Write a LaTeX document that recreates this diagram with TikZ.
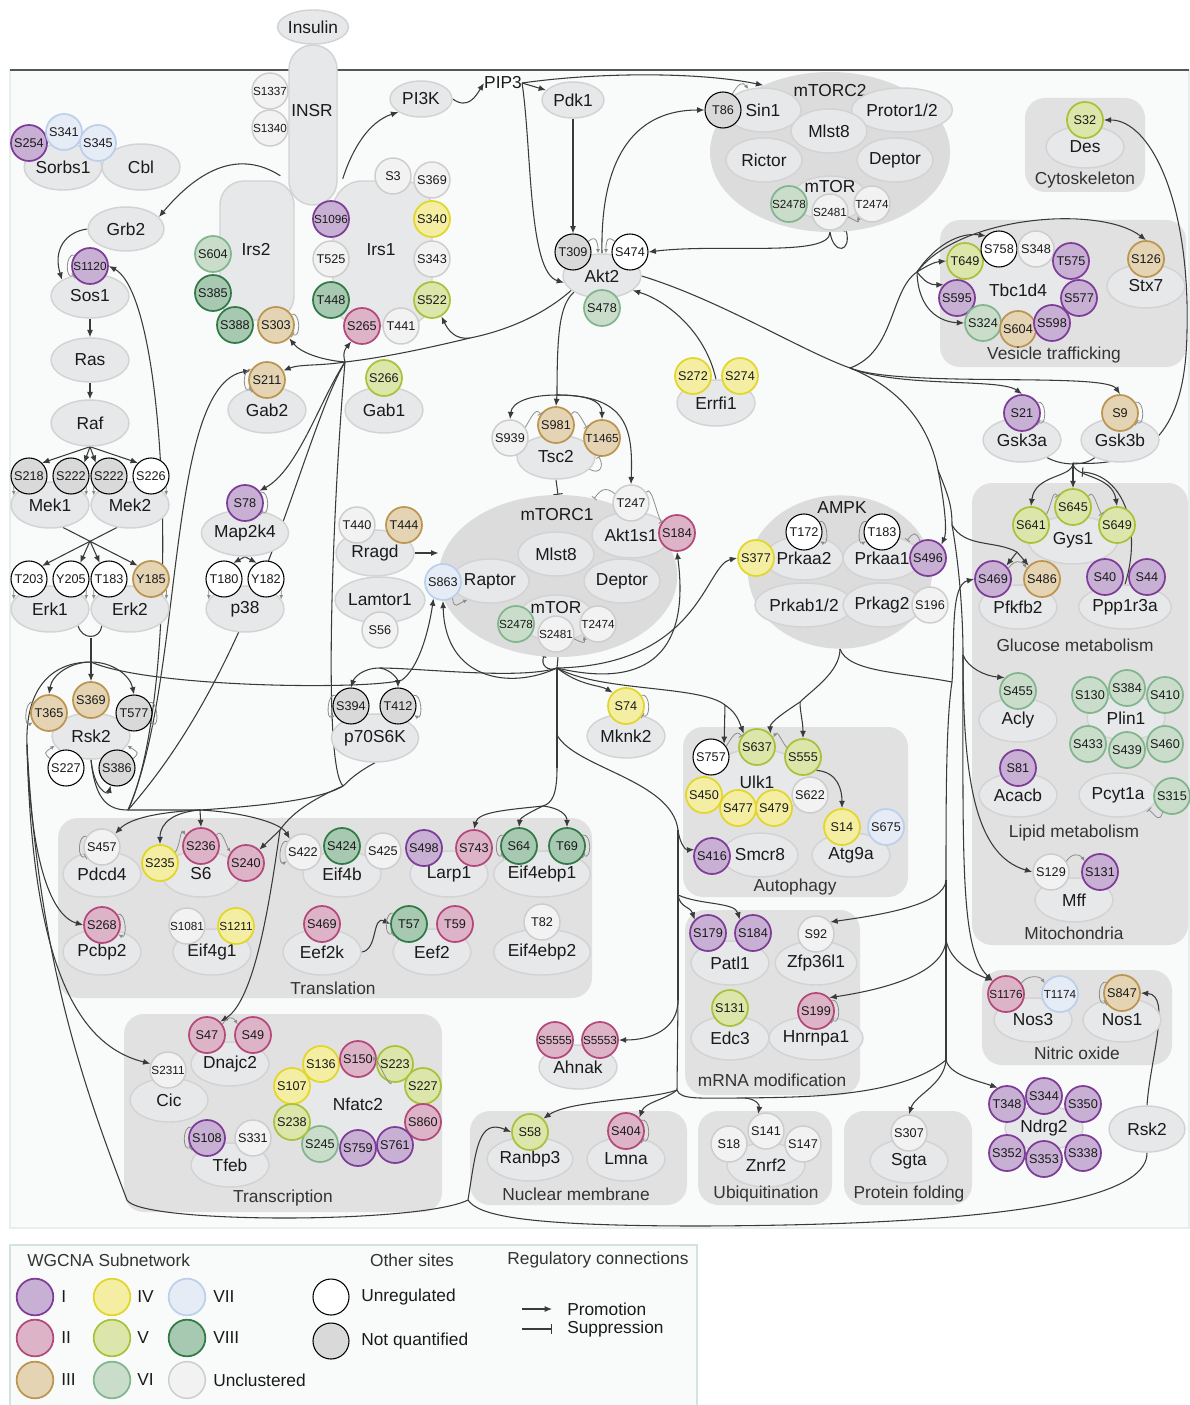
\documentclass[tikz,border=0pt]{standalone}
\usepackage{fontspec}
\setmainfont{Liberation Sans}
\usetikzlibrary{shapes.geometric,arrows.meta,calc,backgrounds}
\pgfdeclarelayer{edges}
\pgfsetlayers{background,edges,main}
\definecolor{cIf}{HTML}{C8B0D4}\definecolor{cId}{HTML}{7D3C98}
\definecolor{cIIf}{HTML}{DDB4C7}\definecolor{cIId}{HTML}{B5487A}
\definecolor{cIIIf}{HTML}{E4D4B4}\definecolor{cIIId}{HTML}{BC9550}
\definecolor{cIVf}{HTML}{F3EEA2}\definecolor{cIVd}{HTML}{E2D62C}
\definecolor{cVf}{HTML}{DDE6AA}\definecolor{cVd}{HTML}{A8C23A}
\definecolor{cVIf}{HTML}{CADDCB}\definecolor{cVId}{HTML}{82B58D}
\definecolor{cVIIf}{HTML}{E6ECF6}\definecolor{cVIId}{HTML}{BCCFEB}
\definecolor{cVIIIf}{HTML}{A7C8B1}\definecolor{cVIIId}{HTML}{2F7A45}
\definecolor{cUf}{HTML}{F2F2F2}\definecolor{cUd}{HTML}{CDCDCD}
\definecolor{nqf}{HTML}{D9D9D9}
\definecolor{protf}{HTML}{E7E8EA}\definecolor{protd}{HTML}{D3D3D3}
\definecolor{boxf}{HTML}{E1E1E1}
\definecolor{cplxf}{HTML}{DCDCDC}
\definecolor{mainbg}{HTML}{F9FBFB}
\definecolor{lgbd}{HTML}{D3E3E3}
\definecolor{panelbd}{HTML}{E6EEEE}
\definecolor{topline}{HTML}{555555}
\definecolor{edgec}{HTML}{3A3A3A}
\definecolor{slfc}{HTML}{8C8C8C}
\definecolor{txt}{HTML}{1A1A1A}
\definecolor{sectxt}{HTML}{333333}
\newcommand\fP{\fontsize{13}{15}\selectfont}
\newcommand\fS{\fontsize{9.5}{11}\selectfont}
\newcommand\fSs{\fontsize{8.8}{10}\selectfont}
\newcommand\St[5][]{\node[s#2,#1] (#3) at (#4) {#5};}
\newcommand\Pn[6][]{\node[prot,pw=#4,ph=#5,#1] (#2) at (#3) {#6};}
\newcommand\slR[2]{\draw[#1] (#2.35) .. controls +(9,-3) and +(9,5) .. (#2.-30);}
\newcommand\slL[2]{\draw[#1] (#2.145) .. controls +(-9,-3) and +(-9,5) .. (#2.210);}
\newcommand\slB[3]{\draw[#1] (#2.35) .. controls +(5,-8) and +(-5,-8) .. (#3.145);}
\newcommand\slD[3]{\draw[slfa] (#1.#2) .. controls +(0,3) .. (#3);}
\begin{document}
\begin{tikzpicture}[x=0.75pt,y=-0.75pt,
 prot/.style={ellipse, draw=protd, fill=protf, line width=1.1pt, inner sep=0pt, font=\fP, text=txt},
 pw/.style={minimum width=#1*0.75pt},
 ph/.style={minimum height=#1*0.75pt},
 rprot/.style={rectangle, draw=protd, fill=protf, line width=1.1pt, inner sep=0pt, rounded corners=#1},
 cplx/.style={ellipse, fill=cplxf, inner sep=0pt},
 site/.style={circle, minimum size=27pt, inner sep=0pt, line width=1.3pt, font=\fS, text=txt},
 sI/.style={site, fill=cIf, draw=cId},
 sII/.style={site, fill=cIIf, draw=cIId},
 sIII/.style={site, fill=cIIIf, draw=cIIId},
 sIV/.style={site, fill=cIVf, draw=cIVd},
 sV/.style={site, fill=cVf, draw=cVd},
 sVI/.style={site, fill=cVIf, draw=cVId},
 sVII/.style={site, fill=cVIIf, draw=cVIId},
 sVIII/.style={site, fill=cVIIIf, draw=cVIIId},
 sU/.style={site, fill=cUf, draw=cUd, line width=1.1pt},
 sW/.style={site, fill=white, draw=black, line width=0.8pt},
 sN/.style={site, fill=nqf, draw=black, line width=0.8pt},
 sm/.style={font=\fSs},
 lbl/.style={font=\fP, inner sep=0pt, text=txt},
 slbl/.style={font=\fP, inner sep=0pt, text=sectxt},
 pro/.style={draw=edgec, line width=0.8pt, -{Latex[length=5.5pt,width=4.5pt]}},
 sup/.style={draw=edgec, line width=0.8pt, -{Bar[width=7pt]}},
 lnk/.style={draw=edgec, line width=0.8pt},
 slfa/.style={draw=slfc, line width=0.6pt, -{Latex[length=3.2pt,width=3pt]}},
 slfb/.style={draw=slfc, line width=0.6pt, -{Bar[width=4.5pt]}}]
\useasboundingbox (0,0) rectangle (1189,1405);
\begin{pgfonlayer}{background}
\fill[white] (0,0) rectangle (1189,1405);
\draw[draw=panelbd, fill=mainbg, line width=0.8pt] (10,70) rectangle (1189,1228);
\draw[draw=topline, line width=1.3pt] (10,70) -- (1189,70);
\fill[boxf, rounded corners=15pt] (1025,98) rectangle (1145,192);
\fill[boxf, rounded corners=15pt] (940,220) rectangle (1186,367);
\fill[boxf, rounded corners=15pt] (972,483) rectangle (1188,945);
\fill[boxf, rounded corners=15pt] (982,970) rectangle (1172,1065);
\fill[boxf, rounded corners=15pt] (844,1111) rectangle (972,1205);
\fill[boxf, rounded corners=15pt] (698,1111) rectangle (832,1205);
\fill[boxf, rounded corners=15pt] (470,1111) rectangle (687,1205);
\fill[boxf, rounded corners=15pt] (685,910) rectangle (860,1095);
\fill[boxf, rounded corners=15pt] (683,727) rectangle (908,897);
\fill[boxf, rounded corners=15pt] (58,818) rectangle (592,998);
\fill[boxf, rounded corners=15pt] (124,1014) rectangle (442,1212);
\draw[lgbd, fill=mainbg, line width=1pt] (10,1245) rectangle (697,1412);
\end{pgfonlayer}
% ---------- top / insulin ----------
\node[rprot=18pt, minimum width=36pt, minimum height=120pt] (INSR) at (313,125) {};
\node[lbl] (INSRl) at (312,111) {INSR};
\Pn{Insulin}{313,27}{58}{34}{Insulin}
\St[sm]{U}{in1337}{270,91}{S1337}
\St[sm]{U}{in1340}{270,128}{S1340}
\node[rprot=18pt, minimum width=55.5pt, minimum height=104.25pt] (Irs2) at (257,250.5) {};
\node[lbl] (Irs2l) at (256,250) {Irs2};
\node[rprot=22pt, minimum width=74.25pt, minimum height=108.75pt] (Irs1) at (382.5,253.5) {};
\node[lbl] (Irs1l) at (381,250) {Irs1};
\St{VI}{i2604}{213,254}{S604}
\St{VIII}{i2385}{213,293}{S385}
\St{VIII}{i2388}{235,325}{S388}
\St{III}{i2303}{276,325}{S303}
\St{U}{i1s3}{393,176}{S3}
\St{U}{i1s369}{432,180}{S369}
\St[sm]{I}{i1s1096}{331,219}{S1096}
\St{IV}{i1s340}{432,219}{S340}
\St{U}{i1t525}{331,259}{T525}
\St{U}{i1s343}{432,259}{S343}
\St{VIII}{i1t448}{331,300}{T448}
\St{V}{i1s522}{432,300}{S522}
\St{II}{i1s265}{362,326}{S265}
\St{U}{i1t441}{401,326}{T441}
\Pn{PI3K}{421,99}{62}{36}{PI3K}
\node[lbl] (PIP3) at (503,83) {PIP3};
\Pn{Pdk1}{573,100}{62}{36}{Pdk1}
% ---------- left column ----------
\Pn{Sorbs1}{63,167}{76}{46}{Sorbs1}
\Pn{Cbl}{141,167}{78}{46}{Cbl}
\St{I}{sb254}{29,143}{S254}
\St{VII}{sb341}{64,132}{S341}
\St{VII}{sb345}{98,143}{S345}
\Pn{Grb2}{126,229}{76}{44}{Grb2}
\Pn{Sos1}{90,296}{78}{44}{Sos1}
\St[sm]{I}{so1120}{90,266}{S1120}
\Pn{Ras}{90,360}{78}{44}{Ras}
\Pn{Raf}{90,423}{78}{46}{Raf}
\Pn{Mek1}{50,505}{78}{46}{Mek1}
\Pn{Mek2}{130,505}{78}{46}{Mek2}
\St{N}{mk218}{29,476}{S218}
\St{N}{mk222a}{71,476}{S222}
\St{N}{mk222b}{109,476}{S222}
\St{W}{mk226}{151,476}{S226}
\Pn{Erk1}{50,609}{78}{46}{Erk1}
\Pn{Erk2}{130,609}{78}{46}{Erk2}
\St{W}{ek203}{29,579}{T203}
\St{W}{ek205}{71,579}{Y205}
\St{W}{ek183}{109,579}{T183}
\St{III}{ek185}{151,579}{Y185}
\Pn{Rsk2}{91,736}{78}{46}{Rsk2}
\St{III}{rk365}{49,713}{T365}
\St{III}{rk369}{91,700}{S369}
\St{N}{rk577}{134,713}{T577}
\St{W}{rk227}{66,768}{S227}
\St{N}{rk386}{117,768}{S386}
% ---------- middle left ----------
\Pn{Gab2}{267,410}{78}{46}{Gab2}
\St{III}{gb211}{267,380}{S211}
\Pn{Gab1}{384,410}{78}{46}{Gab1}
\St{V}{gb266}{384,378}{S266}
\Pn{Map2k4}{245,533}{80}{46}{Map2k4}
\St{I}{mp78}{245,503}{S78}
\Pn{p38}{245,609}{78}{46}{p38}
\St{W}{p3180}{224,579}{T180}
\St{W}{p3182}{266,579}{Y182}
\Pn{Rragd}{375,553}{78}{46}{Rragd}
\St{U}{rg440}{357,525}{T440}
\St{III}{rg444}{404,525}{T444}
\Pn{Lamtor1}{380,600}{78}{46}{Lamtor1}
\St{U}{lt56}{380,630}{S56}
\Pn{p70S6K}{375,738}{86}{48}{p70S6K}
\St{N}{s6394}{351,706}{S394}
\St{N}{s6412}{398,706}{T412}
% ---------- Akt2 ----------
\Pn{Akt2}{602,276}{78}{44}{Akt2}
\St{N}{ak309}{573,252}{T309}
\St{W}{ak474}{630,252}{S474}
\St{VI}{ak478}{602,308}{S478}
% ---------- mTORC2 ----------
\node[cplx, minimum width=180pt, minimum height=120pt] (mTORC2) at (830,152) {};
\node[lbl] (mTORC2l) at (830,91) {mTORC2};
\Pn{Sin1}{763,110}{76}{44}{Sin1}
\Pn{Protor}{902,110}{80}{44}{Protor1/2}
\Pn{MlstB}{829,131}{76}{44}{Mlst8}
\Pn{Rictor}{764,160}{76}{44}{Rictor}
\Pn{DeptorB}{895,160}{76}{44}{Deptor}
\Pn{mTORB}{830,198}{76}{44}{}
\node[lbl] (mTORBl) at (830,187) {mTOR};
\St{N}{m2t86}{723,110}{T86}
\St[sm]{VI}{m2s2478}{789,204}{S2478}
\St[sm]{U}{m2s2481}{830,212}{S2481}
\St[sm]{U}{m2t2474}{872,204}{T2474}
% ---------- Tsc2 / mTORC1 ----------
\Pn{Tsc2}{556,457}{78}{44}{Tsc2}
\St{U}{ts939}{510,438}{S939}
\St{III}{ts981}{556,425}{S981}
\St[sm]{III}{ts1465}{602,438}{T1465}
\node[cplx, minimum width=179pt, minimum height=121.5pt] (mTORC1) at (558,576) {};
\node[lbl] (mTORC1l) at (557,515) {mTORC1};
\Pn{Akt1s1}{631,535}{78}{46}{Akt1s1}
\Pn{MlstA}{556,554}{76}{44}{Mlst8}
\Pn{Raptor}{490,581}{78}{44}{Raptor}
\Pn{DeptorA}{622,581}{76}{44}{Deptor}
\Pn{mTORA}{556,618}{76}{46}{}
\node[lbl] (mTORAl) at (556,608) {mTOR};
\St{U}{as247}{631,503}{T247}
\St{II}{as184}{677,533}{S184}
\St{VII}{rp863}{443,582}{S863}
\St[sm]{VI}{m1s2478}{516,624}{S2478}
\St[sm]{U}{m1s2481}{556,634}{S2481}
\St[sm]{U}{m1t2474}{598,624}{T2474}
\Pn{Errfi1}{716,403}{78}{46}{Errfi1}
\St{IV}{ef272}{693,376}{S272}
\St{IV}{ef274}{740,376}{S274}
\Pn{Mknk2}{626,736}{78}{44}{Mknk2}
\St{IV}{mn74}{626,706}{S74}
% ---------- AMPK ----------
\node[cplx, minimum width=138pt, minimum height=115pt] (AMPK) at (840,572) {};
\node[lbl] (AMPKl) at (842,508) {AMPK};
\Pn{Prkaa2}{804,558}{78}{44}{Prkaa2}
\Pn{Prkaa1}{882,558}{78}{44}{Prkaa1}
\Pn{Prkab}{804,605}{78}{44}{Prkab1/2}
\Pn{Prkag2}{882,605}{78}{44}{Prkag2}
\St{W}{a2t172}{804,532}{T172}
\St{IV}{a2s377}{756,558}{S377}
\St{W}{a1t183}{882,532}{T183}
\St{I}{a1s496}{928,558}{S496}
\St{U}{g2s196}{930,605}{S196}
% ---------- right column ----------
\Pn{Des}{1085,147}{78}{42}{Des}
\St{V}{ds32}{1085,120}{S32}
\node[slbl] (cytol) at (1085,180) {Cytoskeleton};
\Pn{Tbc1d4}{1018,290}{116}{74}{Tbc1d4}
\St{V}{vt649}{965,261}{T649}
\St{W}{vs758}{999,249}{S758}
\St{U}{vs348}{1036,249}{S348}
\St{I}{vt575}{1071,261}{T575}
\St{I}{vs595}{957,298}{S595}
\St{I}{vs577}{1079,298}{S577}
\St{VI}{vs324}{983,323}{S324}
\St{III}{vs604}{1018,329}{S604}
\St{I}{vs598}{1052,323}{S598}
\Pn{Stx7}{1146,286}{78}{44}{Stx7}
\St{III}{sx126}{1146,259}{S126}
\node[slbl] (vesl) at (1054,355) {Vesicle trafficking};
\Pn{Gsk3a}{1022,440}{78}{44}{Gsk3a}
\St{I}{g3a21}{1022,413}{S21}
\Pn{Gsk3b}{1120,440}{78}{44}{Gsk3b}
\St{III}{g3b9}{1120,413}{S9}
\Pn{Gys1}{1073,540}{90}{48}{Gys1}
\St{V}{gy641}{1031,525}{S641}
\St{V}{gy645}{1073,507}{S645}
\St{V}{gy649}{1117,525}{S649}
\Pn{Pfkfb2}{1018,607}{78}{44}{Pfkfb2}
\St{I}{pf469}{993,579}{S469}
\St{III}{pf486}{1042,579}{S486}
\Pn{Ppp1r3a}{1125,607}{80}{44}{Ppp1r3a}
\St{I}{pp40}{1105,577}{S40}
\St{I}{pp44}{1147,577}{S44}
\node[slbl] (glucl) at (1075,645) {Glucose metabolism};
\Pn{Acly}{1018,720}{78}{44}{Acly}
\St{VI}{ac455}{1018,691}{S455}
\Pn{Plin1}{1126,718}{78}{44}{Plin1}
\St{VI}{pl130}{1090,695}{S130}
\St{VI}{pl384}{1127,688}{S384}
\St{VI}{pl410}{1165,695}{S410}
\St{VI}{pl433}{1088,744}{S433}
\St{VI}{pl439}{1127,750}{S439}
\St{VI}{pl460}{1165,744}{S460}
\Pn{Acacb}{1018,795}{78}{44}{Acacb}
\St{I}{cb81}{1018,768}{S81}
\Pn{Pcyt1a}{1118,795}{78}{44}{Pcyt1a}
\St{VI}{pc315}{1172,796}{S315}
\node[slbl] (lipl) at (1074,833) {Lipid metabolism};
\Pn{Mff}{1074,900}{78}{44}{Mff}
\St{U}{mf129}{1051,872}{S129}
\St{I}{mf131}{1100,872}{S131}
\node[slbl] (mitol) at (1074,933) {Mitochondria};
\Pn{Nos3}{1033,1020}{78}{44}{Nos3}
\St[sm]{II}{n3s1176}{1006,994}{S1176}
\St[sm]{VII}{n3t1174}{1060,994}{T1174}
\Pn{Nos1}{1122,1020}{78}{44}{Nos1}
\St{III}{n1s847}{1122,993}{S847}
\node[slbl] (nol) at (1077,1053) {Nitric oxide};
\Pn{Ndrg2}{1044,1128}{78}{44}{Ndrg2}
\St{I}{nd348}{1007,1104}{T348}
\St{I}{nd344}{1044,1096}{S344}
\St{I}{nd350}{1083,1104}{S350}
\St{I}{nd352}{1007,1153}{S352}
\St{I}{nd353}{1044,1159}{S353}
\St{I}{nd338}{1083,1153}{S338}
\Pn{RskB}{1147,1129}{76}{46}{Rsk2}
% ---------- bottom boxes ----------
\Pn{Sgta}{909,1161}{78}{44}{Sgta}
\St{U}{sg307}{909,1133}{S307}
\node[slbl] (pfl) at (909,1194) {Protein folding};
\Pn{Znrf2}{766,1165}{78}{44}{Znrf2}
\St{U}{zn18}{729,1144}{S18}
\St{U}{zn141}{766,1131}{S141}
\St{U}{zn147}{803,1144}{S147}
\node[slbl] (ubl) at (766,1194) {Ubiquitination};
\Pn{Ranbp3}{530,1159}{78}{44}{Ranbp3}
\St{V}{rb58}{530,1132}{S58}
\Pn{Lmna}{626,1159}{78}{44}{Lmna}
\St{II}{lm404}{626,1131}{S404}
\node[slbl] (nml) at (576,1194) {Nuclear membrane};
\Pn{Ahnak}{578,1067}{78}{44}{Ahnak}
\St[sm]{II}{ah5555}{555,1040}{S5555}
\St[sm]{II}{ah5553}{600,1040}{S5553}
\Pn{Patl1}{730,963}{78}{44}{Patl1}
\St{I}{pa179}{708,933}{S179}
\St{I}{pa184}{753,933}{S184}
\Pn{Zfp36l1}{816,963}{80}{44}{Zfp36l1}
\St{U}{zf92}{816,934}{S92}
\Pn{Edc3}{730,1038}{78}{44}{Edc3}
\St{V}{ed131}{730,1008}{S131}
\Pn{Hnrnpa1}{816,1038}{78}{44}{Hnrnpa1}
\St{II}{hn199}{816,1011}{S199}
\node[slbl] (mrnal) at (772,1080) {mRNA modification};
\Pn{Ulk1}{757,782}{104}{66}{Ulk1}
\St{W}{uk757}{711,757}{S757}
\St{V}{uk637}{757,747}{S637}
\St{V}{uk555}{803,757}{S555}
\St{IV}{uk450}{704,795}{S450}
\St{IV}{uk477}{738,808}{S477}
\St{IV}{uk479}{774,808}{S479}
\St{U}{uk622}{810,795}{S622}
\Pn{Smcr8}{760,855}{76}{44}{Smcr8}
\St{I}{sm416}{712,856}{S416}
\Pn{Atg9a}{851,855}{78}{44}{Atg9a}
\St{IV}{at14}{842,827}{S14}
\St{VII}{at675}{886,827}{S675}
\node[slbl] (autol) at (795,887) {Autophagy};
% ---------- translation ----------
\Pn{Pdcd4}{102,874}{78}{46}{Pdcd4}
\St{U}{pd457}{102,847}{S457}
\Pn{S6}{201,874}{78}{46}{S6}
\St{IV}{s6235}{160,863}{S235}
\St{II}{s6236}{201,846}{S236}
\St{II}{s6240}{246,863}{S240}
\Pn{Eif4b}{342,874}{78}{46}{Eif4b}
\St{U}{e4b422}{303,852}{S422}
\St{VIII}{e4b424}{342,846}{S424}
\St{U}{e4b425}{383,851}{S425}
\Pn{Larp1}{449,874}{78}{46}{Larp1}
\St{I}{lp498}{424,848}{S498}
\St{II}{lp743}{474,848}{S743}
\Pn{Eif4ebp1}{542,874}{82}{46}{Eif4ebp1}
\St{VIII}{bp64}{519,846}{S64}
\St{VIII}{bp69}{567,846}{T69}
\Pn{Pcbp2}{102,952}{78}{46}{Pcbp2}
\St{II}{pb268}{102,925}{S268}
\Pn{Eif4g1}{212,952}{78}{46}{Eif4g1}
\St[sm]{U}{g1081}{187,926}{S1081}
\St[sm]{IV}{g1211}{236,926}{S1211}
\Pn{Eef2k}{322,952}{78}{46}{Eef2k}
\St{II}{ek469}{322,924}{S469}
\Pn{Eef2}{432,952}{78}{46}{Eef2}
\St{VIII}{ef57}{409,924}{T57}
\St{II}{ef59}{455,924}{T59}
\Pn{Eif4ebp2}{542,952}{82}{46}{Eif4ebp2}
\St{U}{bp82}{542,922}{T82}
\node[slbl] (transl) at (333,988) {Translation};
% ---------- transcription ----------
\Pn{Dnajc2}{230,1064}{78}{44}{Dnajc2}
\St{II}{dj47}{207,1035}{S47}
\St{II}{dj49}{253,1035}{S49}
\Pn{Cic}{169,1100}{78}{44}{Cic}
\St[sm]{U}{cc2311}{168,1070}{S2311}
\Pn{Tfeb}{230,1165}{78}{44}{Tfeb}
\St{I}{tf108}{207,1138}{S108}
\St{U}{tf331}{253,1138}{S331}
\Pn{Nfatc2}{358,1104}{122}{86}{Nfatc2}
\St{IV}{nf107}{292,1086}{S107}
\St{IV}{nf136}{321,1064}{S136}
\St{II}{nf150}{358,1059}{S150}
\St{V}{nf223}{395,1064}{S223}
\St{V}{nf227}{423,1086}{S227}
\St{II}{nf860}{423,1122}{S860}
\St{I}{nf761}{395,1145}{S761}
\St{I}{nf759}{358,1148}{S759}
\St{VI}{nf245}{320,1144}{S245}
\St{V}{nf238}{292,1122}{S238}
\node[slbl] (trnl) at (283,1198) {Transcription};
% ---------- legend ----------
\node[slbl, anchor=west] (lgT1) at (27,1260) {WGCNA Subnetwork};
\node[sI, minimum size=27.5pt] (lgI) at (35,1297) {};
\node[sII, minimum size=27.5pt] (lgII) at (35,1338) {};
\node[sIII, minimum size=27.5pt] (lgIII) at (35,1380) {};
\node[sIV, minimum size=27.5pt] (lgIV) at (112,1297) {};
\node[sV, minimum size=27.5pt] (lgV) at (112,1338) {};
\node[sVI, minimum size=27.5pt] (lgVI) at (112,1380) {};
\node[sVII, minimum size=27.5pt] (lgVII) at (187,1297) {};
\node[sVIII, minimum size=27.5pt] (lgVIII) at (187,1338) {};
\node[sU, minimum size=27.5pt] (lgU) at (187,1380) {};
\node[lbl, anchor=west] (lgIt) at (61,1297) {I};
\node[lbl, anchor=west] (lgIIt) at (61,1338) {II};
\node[lbl, anchor=west] (lgIIIt) at (61,1380) {III};
\node[lbl, anchor=west] (lgIVt) at (137,1297) {IV};
\node[lbl, anchor=west] (lgVt) at (137,1338) {V};
\node[lbl, anchor=west] (lgVIt) at (137,1380) {VI};
\node[lbl, anchor=west] (lgVIIt) at (213,1297) {VII};
\node[lbl, anchor=west] (lgVIIIt) at (213,1338) {VIII};
\node[lbl, anchor=west] (lgUt) at (213,1380) {Unclustered};
\node[slbl] (lgT2) at (412,1260) {Other sites};
\node[sW, minimum size=27pt] (lgW) at (331,1297) {};
\node[sN, minimum size=27pt] (lgN) at (331,1341) {};
\node[lbl, anchor=west] (lgWt) at (361,1297) {Unregulated};
\node[lbl, anchor=west] (lgNt) at (361,1341) {Not quantified};
\node[slbl] (lgT3) at (598,1260) {Regulatory connections};
\coordinate (lgp1) at (522,1309); \coordinate (lgp2) at (552,1309);
\coordinate (lgs1) at (522,1329); \coordinate (lgs2) at (552,1329);
\node[lbl, anchor=west] (lgPt) at (567,1309) {Promotion};
\node[lbl, anchor=west] (lgSt) at (567,1329) {Suppression};
% ---------- small self-regulation hooks ----------
\slL{slfb}{so1120}
\slR{slfb}{i2303}
\slL{slfb}{gb211}
\slR{slfb}{mp78}
\slR{slfb}{g3a21}
\slR{slfb}{g3b9}
\slR{slfb}{lm404}
\slR{slfb}{hn199}
\slR{slfb}{mn74}
\slR{slfb}{bp69}
\slL{slfb}{bp64}
\slL{slfb}{n1s847}
\slL{slfb}{tf108}
\slL{slfb}{pd457}
\slL{slfb}{ef57}
\slR{slfa}{pb268}
\slR{slfa}{a2t172}
\slL{slfa}{a1t183}
\slL{slfa}{rk365}
\slR{slfa}{rk577}
\slL{slfa}{s6394}
\slR{slfa}{s6412}
\slL{slfa}{e4b422}
\slB{slfb}{ts939}{ts981}
\slB{slfb}{ts981}{ts1465}
\slB{slfb}{gy641}{gy645}
\slB{slfb}{gy645}{gy649}
\slB{slfa}{s6235}{s6236}
\slB{slfa}{s6236}{s6240}
\slB{slfa}{dj47}{dj49}
\slB{slfb}{uk757}{uk637}
\slB{slfa}{n3s1176}{n3t1174}
\slB{slfa}{mf129}{mf131}
\slB{slfa}{pf469}{pf486}
\slB{slfb}{as247}{as184}
\slD{mk218}{215}{Mek1.165}
\slD{mk222a}{-35}{Mek1.15}
\slD{mk222b}{215}{Mek2.165}
\slD{mk226}{-35}{Mek2.15}
\slD{ek203}{215}{Erk1.165}
\slD{ek205}{-35}{Erk1.15}
\slD{ek183}{215}{Erk2.165}
\slD{ek185}{-35}{Erk2.15}
\slD{p3180}{215}{p38.165}
\slD{p3182}{-35}{p38.15}
\draw[slfa] (rk227.150) .. controls +(-6,-6) .. (Rsk2.195);
\draw[slfa] (rk386.30) .. controls +(6,-6) .. (Rsk2.-15);
\draw[slfa] (ak309.35) .. controls +(9,-8) and +(0,-8) .. (Akt2.100);
\draw[slfa] (ak474.145) .. controls +(-9,-8) and +(0,-8) .. (Akt2.80);
\draw[slfa] (m2t86.60) .. controls +(6,-10) and +(-6,-8) .. (Sin1.125);
\draw[slfa] (m2s2481.-15) .. controls +(8,4) and +(2,8) .. (m2t2474.-140);
\draw[slfa] (m1s2481.-15) .. controls +(8,4) and +(2,8) .. (m1t2474.-140);
\draw[slfa] (rp863.-60) .. controls +(2,12) and +(-10,4) .. (Raptor.-140);
\draw[slfb] (as247.150) .. controls +(-10,-8) and +(6,-8) .. (mTORC1.65);
\draw[slfb] (a1s496.115) .. controls +(-4,-10) and +(6,-8) .. (Prkaa1.35);
\draw[slfa] (uk555.150) .. controls +(-6,-8) and +(4,-8) .. (uk637.30);
\draw[slfb] (pc315.-120) .. controls +(-3,10) and +(8,8) .. (Pcyt1a.-25);
\draw[slfb] (Tsc2.-20) .. controls +(10,6) and +(6,10) .. (ts1465.-100);
\draw[slfa] (nf223.-100) .. controls +(-2,8) and +(2,-8) .. (Nfatc2.70);
% ================= connectors =================
\begin{pgfonlayer}{edges}
\draw[pro] (lgp1) -- (lgp2);
\draw[sup] (lgs1) -- (lgs2);
% insulin signalling
\draw[pro] ($(INSR.south west)+(-8,-30)$) .. controls (240,150) and (200,168) .. (Grb2.20);
\draw[pro] ($(INSR.south east)+(5,-27)$) .. controls (352,150) and (368,122) .. (PI3K.210);
\draw[pro] (PI3K.east) .. controls (468,110) and (476,96) .. (PIP3.west);
\draw[pro] (PIP3.east) -- (Pdk1.160);
\draw[pro] (PIP3.east) .. controls (600,72) and (700,72) .. (mTORC2.135);
\draw[pro] (PIP3.east) .. controls (532,150) and (528,272) .. (Akt2.190);
\draw[pro] (Pdk1.south) -- (ak309.north);
\draw[pro] (Akt2.north) .. controls (600,150) and (640,110) .. (m2t86.west);
\draw[pro] (mTORC2.south) .. controls (830,258) and (720,243) .. (ak474.east);
\draw[pro] (mTORC2.south) .. controls (834,256) and (852,252) .. (m2s2481.-40);
% Akt2 -> Irs / Gab
\coordinate (ja) at (470,338);
\coordinate (jK) at (345,362);
\coordinate (jT1) at (128,810);
\coordinate (jP) at (343,786);
\draw[lnk] (Akt2.205) .. controls (540,318) and (500,332) .. (ja);
\draw[pro] (ja) .. controls (455,340) and (448,330) .. (i1s522.-60);
\draw[lnk] (ja) .. controls (420,350) and (380,358) .. (jK);
\draw[pro] (jK) .. controls (342,352) and (346,348) .. (i1s265.235);
\draw[pro] (jK) .. controls (320,360) and (300,352) .. (i2303.-45);
\draw[pro] (jK) .. controls (320,366) and (300,364) .. (gb211.30);
\draw[pro] (jK) .. controls (320,400) and (298,470) .. (mp78.40);
\draw[lnk] (jK) .. controls (300,440) and (260,660) .. (jT1);
\draw[lnk] (jK) .. controls (333,500) and (322,765) .. (jP);
% Akt2 -> Tsc2 / Akt1s1
\coordinate (jt) at (557,395);
\draw[lnk] (Akt2.south west) .. controls (560,305) and (557,330) .. (jt);
\draw[pro] (jt) .. controls (530,395) and (512,402) .. (ts939.north);
\draw[pro] (jt) -- (ts981.north);
\draw[pro] (jt) .. controls (585,395) and (602,400) .. (ts1465.north);
\draw[pro] (jt) .. controls (628,395) and (633,430) .. (as247.north);
\draw[sup] (Tsc2.south) -- (mTORC1.north);
% Akt2 -> right side
\coordinate (ja2) at (850,368);
\coordinate (jv) at (917,272);
\draw[lnk] (Akt2.east) .. controls (720,300) and (800,350) .. (ja2);
\draw[lnk] (ja2) .. controls (895,352) and (890,290) .. (jv);
\draw[pro] (jv) .. controls (928,265) and (935,262) .. (vt649.west);
\draw[pro] (jv) .. controls (925,282) and (930,285) .. (vs595.north west);
\draw[pro] (jv) .. controls (918,310) and (940,322) .. (vs324.west);
\draw[pro] (jv) .. controls (935,245) and (960,232) .. (vs758.north west);
\draw[pro] (jv) .. controls (960,215) and (1100,205) .. (sx126.north);
\draw[pro] (ja2) .. controls (900,388) and (1000,378) .. (g3a21.north);
\draw[pro] (ja2) .. controls (900,388) and (1105,372) .. (g3b9.north);
\coordinate (jr0) at (938,470);
\coordinate (jr) at (952,525);
\draw[lnk] (ja2) .. controls (905,390) and (930,430) .. (jr0);
\draw[pro] (jr0) .. controls (943,495) and (948,530) .. (a1s496.north east);
\draw[lnk] (jr0) .. controls (948,495) and (952,505) .. (jr);
\coordinate (jpf) at (1017,552);
\draw[lnk] (jr) .. controls (965,548) and (995,540) .. (jpf);
\draw[pro] (jpf) -- (pf469.north east);
\draw[pro] (jpf) -- (pf486.north west);
\coordinate (jr2) at (963,655);
\draw[lnk] (jr) .. controls (960,570) and (963,620) .. (jr2);
\draw[pro] (jr2) .. controls (968,668) and (985,676) .. (ac455.north west);
\draw[pro] (jr2) .. controls (963,780) and (975,855) .. (mf129.west);
\draw[pro] (jr2) .. controls (963,860) and (960,950) .. (n3s1176.north west);
% AMPK
\coordinate (jam) at (952,682);
\draw[lnk] (AMPK.south) .. controls (848,672) and (900,672) .. (jam);
\draw[pro] (jam) .. controls (955,640) and (950,585) .. (pf469.west);
\coordinate (jx1) at (946,880);
\coordinate (jx2) at (946,940);
\coordinate (jx3) at (946,1060);
\draw[lnk] (jam) .. controls (946,720) and (946,800) .. (jx1);
\draw[pro] (jx1) .. controls (945,905) and (880,915) .. (zf92.40);
\draw[lnk] (jx1) -- (jx2);
\draw[pro] (jx2) .. controls (944,975) and (880,990) .. (hn199.45);
\draw[pro] (jx2) .. controls (950,960) and (970,972) .. (n3s1176.north west);
\draw[lnk] (jx2) -- (jx3);
\draw[pro] (jx3) .. controls (950,1075) and (975,1080) .. (nd348.120);
\draw[pro] (jx3) .. controls (944,1085) and (915,1095) .. (sg307.north);
\coordinate (jA) at (800,702);
\draw[lnk] (AMPK.south) .. controls (840,672) and (812,690) .. (jA);
\draw[pro] (jA) .. controls (785,712) and (770,722) .. (uk637.north east);
\draw[pro] (jA) .. controls (800,712) and (803,722) .. (uk555.north);
\draw[pro] (uk555.south east) .. controls (838,772) and (842,790) .. (at14.north);
% mTORC1 hub
\coordinate (jm) at (557,668);
\draw[lnk] (mTORC1.south) -- (jm);
\draw[pro] (jm) .. controls (548,672) and (540,665) .. (m1s2481.240);
\draw[pro] (jm) .. controls (510,690) and (445,680) .. (rp863.south);
\coordinate (jp) at (380,668);
\draw[lnk] (jm) .. controls (520,680) and (420,668) .. (jp);
\draw[pro] (jp) .. controls (362,668) and (354,678) .. (s6394.north);
\draw[pro] (jp) .. controls (392,670) and (398,680) .. (s6412.north);
\draw[pro] (jm) .. controls (580,686) and (600,685) .. (mn74.north west);
\draw[pro] (jm) .. controls (650,690) and (690,650) .. (as184.south);
\draw[pro] (jm) .. controls (700,665) and (705,565) .. (a2s377.west);
\coordinate (jU) at (725,705);
\draw[lnk] (jm) .. controls (600,692) and (700,685) .. (jU);
\draw[pro] (jU) -- (uk757.north east);
\draw[pro] (jU) .. controls (735,712) and (738,718) .. (uk637.north west);
\coordinate (jm3) at (557,735);
\coordinate (jm2) at (557,768);
\draw[lnk] (jm) -- (jm3) -- (jm2);
\coordinate (jt2) at (543,806);
\draw[lnk] (jm2) .. controls (557,795) and (552,803) .. (jt2);
\draw[pro] (jt2) .. controls (505,810) and (478,812) .. (lp743.north);
\draw[pro] (jt2) .. controls (530,812) and (520,818) .. (bp64.north);
\draw[pro] (jt2) .. controls (560,808) and (567,815) .. (bp69.north);
\coordinate (jd) at (678,830);
\coordinate (jd2) at (678,895);
\coordinate (jd3) at (678,1000);
\coordinate (jd4) at (677,1090);
\draw[lnk] (jm3) .. controls (575,768) and (672,780) .. (jd);
\draw[pro] (jd) .. controls (680,845) and (686,850) .. (sm416.160);
\draw[lnk] (jd) -- (jd2);
\draw[pro] (jd2) .. controls (680,908) and (690,906) .. (pa179.north west);
\draw[pro] (jd2) .. controls (700,905) and (735,902) .. (pa184.north west);
\draw[lnk] (jd2) -- (jd3);
\draw[pro] (jd3) .. controls (678,1030) and (650,1040) .. (ah5553.east);
\draw[lnk] (jd3) -- (jd4);
\draw[pro] (jd4) .. controls (650,1100) and (570,1100) .. (rb58.north east);
\draw[pro] (jd4) .. controls (665,1100) and (645,1102) .. (lm404.north east);
\coordinate (jh) at (745,1098);
\draw[lnk] (jd4) .. controls (680,1100) and (700,1098) .. (jh);
\draw[pro] (jh) .. controls (755,1099) and (760,1104) .. (zn141.115);
\draw[lnk] (jh) .. controls (800,1097) and (900,1098) .. (jx3);
% other
\draw[pro] (Errfi1.north) .. controls (705,330) and (665,300) .. (Akt2.-25);
\draw[pro] (Rragd.east) -- (Rragd.east -| mTORC1.west);
\draw[pro] (Grb2.west) .. controls (65,232) and (53,250) .. (Sos1.150);
\draw[pro] (Sos1.south) -- (Ras.north);
\draw[pro] (Ras.south) -- (Raf.north);
\draw[pro] (Raf.south) -- (mk218.north east);
\draw[pro] (Raf.south) -- (mk222a.north east);
\draw[pro] (Raf.south) -- (mk222b.north west);
\draw[pro] (Raf.south) -- (mk226.north west);
\coordinate (jx) at (90,541);
\draw[pro] (Mek1.-60) -- (ek185.north west);
\draw[pro] (Mek2.-120) -- (ek203.north east);
\draw[pro] (jx) -- (ek205.60);
\draw[pro] (jx) -- (ek183.120);
\draw[pro] (Map2k4.south) -- (p3180.60);
\draw[pro] (Map2k4.south) -- (p3182.120);
% Erk -> Rsk2 etc.
\coordinate (jE0) at (91,638);
\coordinate (jE) at (91,662);
\draw[lnk] (Erk1.south east) .. controls (82,640) and (100,640) .. (Erk2.south west);
\draw[pro] (jE0) -- (rk369.north);
\draw[pro] (jE) .. controls (70,662) and (52,675) .. (rk365.north);
\draw[pro] (jE) .. controls (112,662) and (130,675) .. (rk577.north);
\coordinate (jL) at (27,745);
\coordinate (jL2) at (127,1200);
\coordinate (jb) at (468,1200);
\coordinate (jb2) at (700,1226);
\draw[lnk] (jE) .. controls (50,662) and (25,690) .. (jL);
\draw[pro] (jL) .. controls (30,850) and (48,915) .. (pb268.west);
\draw[pro] (jL) .. controls (32,960) and (75,1045) .. (cc2311.160);
\draw[lnk] (jL) .. controls (38,960) and (85,1090) .. (jL2) .. controls (140,1224) and (420,1224) .. (jb);
\draw[pro] (jb) .. controls (476,1150) and (478,1118) .. (rb58.west);
\draw[lnk] (RskB.south) .. controls (1148,1200) and (1000,1225) .. (jb2) .. controls (520,1226) and (478,1215) .. (jb);
\draw[pro] (RskB.north) .. controls (1150,1060) and (1172,995) .. (n1s847.east);
\coordinate (jR) at (402,680);
\draw[pro] (jE) .. controls (150,688) and (370,690) .. (jR) .. controls (418,668) and (428,635) .. (rp863.240);
% Rsk2 / p70S6K -> translation
\coordinate (jT) at (200,810);
\coordinate (jS) at (280,830);
\draw[pro] (Rsk2.south) .. controls (94,790) and (108,796) .. (rk386.-110);
\draw[lnk] (Rsk2.south) .. controls (95,800) and (108,810) .. (jT1) -- (jT);
\draw[lnk] (p70S6K.south) .. controls (352,775) and (345,785) .. (jP);
\draw[lnk] (jP) .. controls (320,800) and (260,806) .. (jT);
\draw[pro] (jT) -- (s6236.north);
\draw[pro] (jT) .. controls (175,812) and (160,822) .. (s6235.north);
\draw[pro] (jT) .. controls (160,812) and (130,818) .. (pd457.north east);
\draw[pro] (jT) .. controls (240,812) and (280,822) .. (e4b422.north west);
\draw[lnk] (jP) .. controls (310,800) and (290,815) .. (jS);
\draw[pro] (jS) -- (s6240.north east);
\draw[pro] (jS) .. controls (270,900) and (255,1000) .. (dj47.north east);
\draw[pro] (jT1) .. controls (180,700) and (172,300) .. (so1120.east);
\draw[pro] (jT1) .. controls (185,680) and (165,385) .. (gb211.150);
% Gsk / glucose
\draw[lnk] (Gsk3a.-35) .. controls (1062,466) and (1085,466) .. (Gsk3b.-145);
\coordinate (jG) at (1073,463);
\draw[pro] (jG) -- (gy645.north);
\draw[pro] (jG) .. controls (1073,478) and (1035,474) .. (gy641.north);
\draw[pro] (jG) .. controls (1073,478) and (1112,474) .. (gy649.north);
\coordinate (jGb) at (1082,472);
\draw[sup] (Ppp1r3a.north) .. controls (1142,530) and (1125,475) .. (jGb);
\coordinate (jD) at (1187,330);
\draw[pro] (jG) .. controls (1150,468) and (1186,430) .. (jD) .. controls (1190,200) and (1150,120) .. (ds32.east);
\draw[pro] (Eef2k.east) .. controls (378,950) and (372,915) .. (ef57.west);
\end{pgfonlayer}
\end{tikzpicture}
\end{document}
